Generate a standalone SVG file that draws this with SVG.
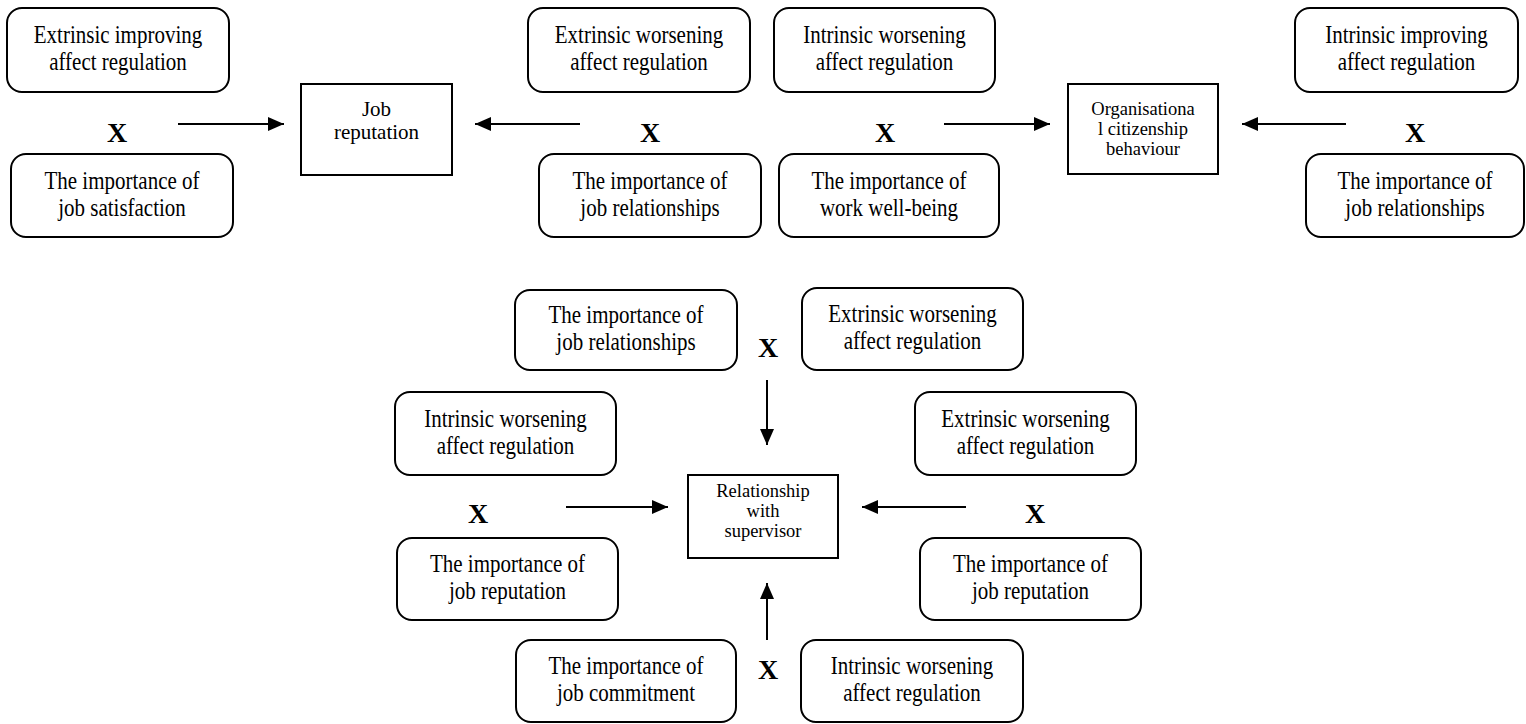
<svg xmlns="http://www.w3.org/2000/svg" width="1526" height="724" viewBox="0 0 1526 724">
  <style>
    .rb { fill: #fff; stroke: #000; stroke-width: 2; }
    .sq { fill: #fff; stroke: #000; stroke-width: 2; }
    .t { font-family: "Liberation Serif", "Times New Roman", serif; font-size: 21px; text-anchor: middle; fill: #000; }
    .s { font-family: "Liberation Serif", "Times New Roman", serif; font-size: 18.5px; text-anchor: middle; fill: #000; }
    .x { font-family: "Liberation Serif", "Times New Roman", serif; font-size: 28px; font-weight: bold; text-anchor: middle; fill: #000; }
    .c { stroke: #000; stroke-width: 2; fill: none; marker-end: url(#head); }
  </style>
  <defs>
    <marker id="head" markerUnits="userSpaceOnUse" markerWidth="16" markerHeight="14" refX="16" refY="7" orient="auto">
      <path d="M0,0 L16,7 L0,14 z" fill="#000"/>
    </marker>
  </defs>

  <!-- connectors -->
  <g id="connectors">
    <line class="c" x1="178" y1="124" x2="284" y2="124"/>
    <line class="c" x1="580" y1="124" x2="475" y2="124"/>
    <line class="c" x1="944" y1="124" x2="1050" y2="124"/>
    <line class="c" x1="1346" y1="124" x2="1242" y2="124"/>
    <line class="c" x1="767" y1="380" x2="767" y2="445"/>
    <line class="c" x1="566" y1="507" x2="668" y2="507"/>
    <line class="c" x1="966" y1="507" x2="862" y2="507"/>
    <line class="c" x1="767" y1="640" x2="767" y2="583"/>
  </g>

  <!-- outcome boxes -->
  <g id="job-reputation">
    <rect class="sq" x="301" y="84" width="151" height="91"/>
    <text class="t" x="376.5" y="116">Job</text>
    <text class="t" x="376.5" y="139">reputation</text>
  </g>
  <g id="ocb">
    <rect class="sq" x="1068" y="84" width="150" height="90"/>
    <text class="s" x="1143" y="115">Organisationa</text>
    <text class="s" x="1143" y="135">l citizenship</text>
    <text class="s" x="1143" y="155">behaviour</text>
  </g>
  <g id="relationship-supervisor">
    <rect class="sq" x="688" y="475" width="150" height="83"/>
    <text class="s" x="763" y="497">Relationship</text>
    <text class="s" x="763" y="517">with</text>
    <text class="s" x="763" y="537">supervisor</text>
  </g>

  <!-- predictor boxes, top row (labels stretched slightly in height) -->
  <g id="n1"><rect class="rb" x="7" y="8" width="222" height="84" rx="15"/>
    <text class="t" transform="translate(118 43) scale(1 1.18)">Extrinsic improving</text>
    <text class="t" transform="translate(118 70) scale(1 1.18)">affect regulation</text></g>
  <g id="n2"><rect class="rb" x="11" y="154" width="222" height="83" rx="15"/>
    <text class="t" transform="translate(122 189) scale(1 1.18)">The importance of</text>
    <text class="t" transform="translate(122 216) scale(1 1.18)">job satisfaction</text></g>
  <g id="n3"><rect class="rb" x="528" y="8" width="222" height="84" rx="15"/>
    <text class="t" transform="translate(639 43) scale(1 1.18)">Extrinsic worsening</text>
    <text class="t" transform="translate(639 70) scale(1 1.18)">affect regulation</text></g>
  <g id="n4"><rect class="rb" x="539" y="154" width="222" height="83" rx="15"/>
    <text class="t" transform="translate(650 189) scale(1 1.18)">The importance of</text>
    <text class="t" transform="translate(650 216) scale(1 1.18)">job relationships</text></g>
  <g id="n5"><rect class="rb" x="774" y="8" width="221" height="84" rx="15"/>
    <text class="t" transform="translate(884.5 43) scale(1 1.18)">Intrinsic worsening</text>
    <text class="t" transform="translate(884.5 70) scale(1 1.18)">affect regulation</text></g>
  <g id="n6"><rect class="rb" x="779" y="154" width="220" height="83" rx="15"/>
    <text class="t" transform="translate(889 189) scale(1 1.18)">The importance of</text>
    <text class="t" transform="translate(889 216) scale(1 1.18)">work well-being</text></g>
  <g id="n7"><rect class="rb" x="1295" y="8" width="223" height="84" rx="15"/>
    <text class="t" transform="translate(1406.5 43) scale(1 1.18)">Intrinsic improving</text>
    <text class="t" transform="translate(1406.5 70) scale(1 1.18)">affect regulation</text></g>
  <g id="n8"><rect class="rb" x="1306" y="154" width="218" height="83" rx="15"/>
    <text class="t" transform="translate(1415 189) scale(1 1.18)">The importance of</text>
    <text class="t" transform="translate(1415 216) scale(1 1.18)">job relationships</text></g>

  <!-- predictor boxes, lower cluster -->
  <g id="n9"><rect class="rb" x="515" y="290" width="222" height="80" rx="15"/>
    <text class="t" transform="translate(626 323) scale(1 1.18)">The importance of</text>
    <text class="t" transform="translate(626 350) scale(1 1.18)">job relationships</text></g>
  <g id="n10"><rect class="rb" x="802" y="288" width="221" height="82" rx="15"/>
    <text class="t" transform="translate(912.5 322) scale(1 1.18)">Extrinsic worsening</text>
    <text class="t" transform="translate(912.5 349) scale(1 1.18)">affect regulation</text></g>
  <g id="n11"><rect class="rb" x="395" y="392" width="221" height="83" rx="15"/>
    <text class="t" transform="translate(505.5 427) scale(1 1.18)">Intrinsic worsening</text>
    <text class="t" transform="translate(505.5 454) scale(1 1.18)">affect regulation</text></g>
  <g id="n12"><rect class="rb" x="915" y="392" width="221" height="83" rx="15"/>
    <text class="t" transform="translate(1025.5 427) scale(1 1.18)">Extrinsic worsening</text>
    <text class="t" transform="translate(1025.5 454) scale(1 1.18)">affect regulation</text></g>
  <g id="n13"><rect class="rb" x="397" y="538" width="221" height="82" rx="15"/>
    <text class="t" transform="translate(507.5 572) scale(1 1.18)">The importance of</text>
    <text class="t" transform="translate(507.5 599) scale(1 1.18)">job reputation</text></g>
  <g id="n14"><rect class="rb" x="920" y="538" width="221" height="82" rx="15"/>
    <text class="t" transform="translate(1030.5 572) scale(1 1.18)">The importance of</text>
    <text class="t" transform="translate(1030.5 599) scale(1 1.18)">job reputation</text></g>
  <g id="n15"><rect class="rb" x="516" y="640" width="220" height="82" rx="15"/>
    <text class="t" transform="translate(626 674) scale(1 1.18)">The importance of</text>
    <text class="t" transform="translate(626 701) scale(1 1.18)">job commitment</text></g>
  <g id="n16"><rect class="rb" x="801" y="640" width="222" height="82" rx="15"/>
    <text class="t" transform="translate(912 674) scale(1 1.18)">Intrinsic worsening</text>
    <text class="t" transform="translate(912 701) scale(1 1.18)">affect regulation</text></g>

  <!-- interaction markers -->
  <g id="interactions">
    <text class="x" x="117" y="142">X</text>
    <text class="x" x="650" y="142">X</text>
    <text class="x" x="885" y="142">X</text>
    <text class="x" x="1415" y="142">X</text>
    <text class="x" x="768" y="357">X</text>
    <text class="x" x="478" y="523">X</text>
    <text class="x" x="1035" y="523">X</text>
    <text class="x" x="768" y="679">X</text>
  </g>
</svg>
